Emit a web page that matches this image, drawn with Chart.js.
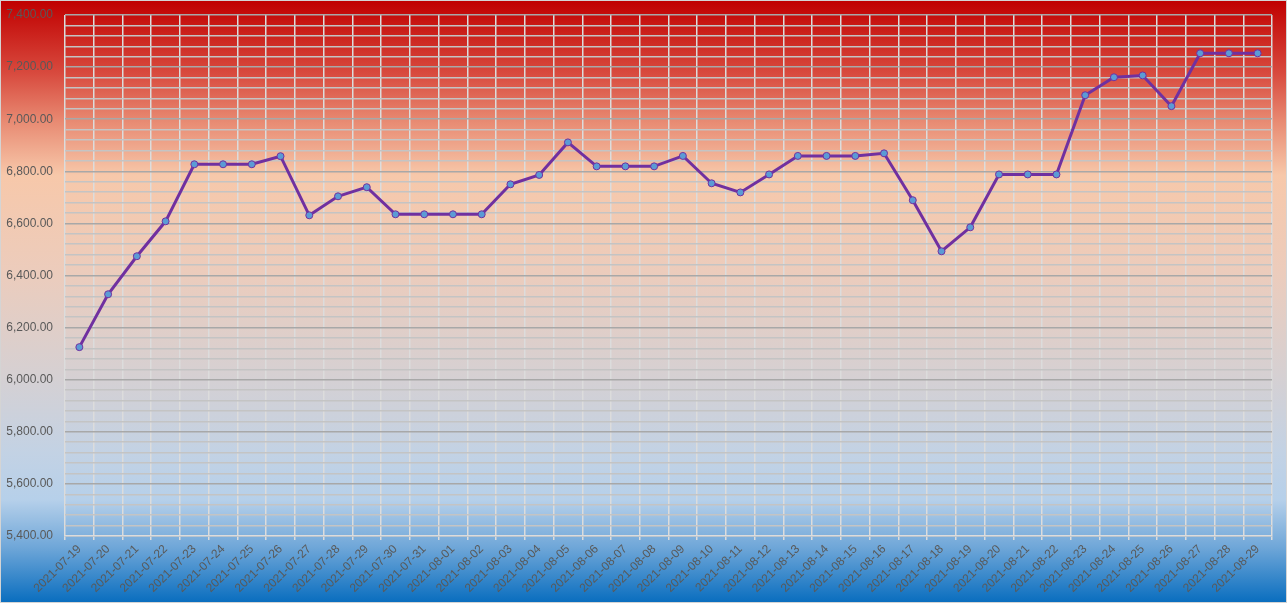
<!DOCTYPE html>
<html lang="en">
<head>
    <meta charset="UTF-8">
    <title>Daily Value Chart</title>
    <script src="https://cdn.jsdelivr.net/npm/chart.js"></script>
    <style>
        body { margin: 0; }
        .wrap {
            width: 1287px; height: 603px; box-sizing: border-box;
            border: 1px solid #d4d4d4;
            background: linear-gradient(to bottom,
                #c00000 0%, #d84a3e 12%, #e88a72 20%, #f7c8aa 29%,
                #ecccbc 45%, #d6d0d2 62%, #c3d2e4 75%, #b6d0ea 83%,
                #6ea6d8 91%, #0a6ebf 100%);
        }
    </style>
</head>
<body>
    <div class="wrap">
        <canvas id="priceChart" width="1285" height="601"></canvas>
    </div>

    <script>
        // dates along the x axis
        const dates = [
            "2021-07-19", "2021-07-20", "2021-07-21", "2021-07-22", "2021-07-23", "2021-07-24",
            "2021-07-25", "2021-07-26", "2021-07-27", "2021-07-28", "2021-07-29", "2021-07-30",
            "2021-07-31", "2021-08-01", "2021-08-02", "2021-08-03", "2021-08-04", "2021-08-05",
            "2021-08-06", "2021-08-07", "2021-08-08", "2021-08-09", "2021-08-10", "2021-08-11",
            "2021-08-12", "2021-08-13", "2021-08-14", "2021-08-15", "2021-08-16", "2021-08-17",
            "2021-08-18", "2021-08-19", "2021-08-20", "2021-08-21", "2021-08-22", "2021-08-23",
            "2021-08-24", "2021-08-25", "2021-08-26", "2021-08-27", "2021-08-28", "2021-08-29"
        ];

        // values
        const values = [
            6125, 6328, 6474, 6608, 6827, 6827,
            6827, 6858, 6631, 6704, 6739, 6635,
            6635, 6635, 6635, 6750, 6786, 6911,
            6819, 6819, 6819, 6859, 6754, 6719,
            6788, 6859, 6859, 6859, 6869, 6689,
            6493, 6585, 6788, 6788, 6788, 7092,
            7161, 7168, 7050, 7253, 7253, 7253
        ];

        const yMin = 5400;
        const yMax = 7400;
        const yStep = 40;      // minor grid
        const yLabelStep = 200; // labelled ticks

        const fmt = new Intl.NumberFormat('en-US', { minimumFractionDigits: 2, maximumFractionDigits: 2 });

        const ctx = document.getElementById("priceChart").getContext("2d");
        new Chart(ctx, {
            type: 'line',
            data: {
                labels: dates,
                datasets: [{
                    data: values,
                    borderColor: '#7030a0',
                    borderWidth: 3,
                    pointRadius: 3.5,
                    pointBackgroundColor: '#5b9bd5',
                    pointBorderColor: '#7030a0',
                    pointBorderWidth: 1,
                    tension: 0,
                    fill: false
                }]
            },
            options: {
                responsive: false,
                animation: false,
                layout: { padding: { top: 14, right: 14, left: 0, bottom: 0 } },
                plugins: {
                    legend: { display: false },
                    tooltip: { enabled: false }
                },
                scales: {
                    x: {
                        offset: true,
                        grid: {
                            offset: true,
                            color: '#dcdcdc',
                            lineWidth: 1.5,
                            tickLength: 4,
                            tickColor: '#dcdcdc'
                        },
                        border: { color: '#dcdcdc', width: 1.5 },
                        ticks: {
                            autoSkip: false,
                            minRotation: 45,
                            maxRotation: 45,
                            color: '#595959',
                            font: { family: 'Liberation Sans', size: 12 },
                            padding: 2
                        },
                        afterFit: scale => { scale.height = 66; }
                    },
                    y: {
                        min: yMin,
                        max: yMax,
                        grid: {
                            drawTicks: false,
                            color: c => (c.tick && c.tick.value % yLabelStep === 0) ? '#a8a8a8' : '#c4c4c4',
                            lineWidth: 1.5
                        },
                        border: { display: false },
                        ticks: {
                            stepSize: yStep,
                            autoSkip: false,
                            color: '#595959',
                            font: { family: 'Liberation Sans', size: 12 },
                            padding: 12,
                            callback: v => (v % yLabelStep === 0) ? fmt.format(v) : ''
                        },
                        afterFit: scale => {
                            scale.width = 64;
                            scale.paddingTop = 0;
                            scale.paddingBottom = 0;
                        }
                    }
                }
            }
        });
    </script>
</body>
</html>
